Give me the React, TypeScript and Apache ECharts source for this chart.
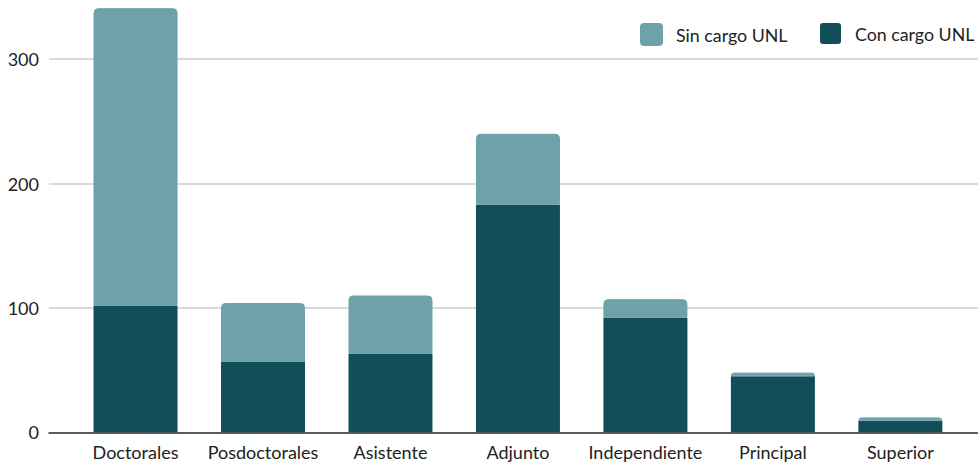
import React, { useEffect, useRef } from "react";
import * as echarts from "echarts";

const categories = ["Doctorales", "Posdoctorales", "Asistente", "Adjunto", "Independiente", "Principal", "Superior"];
const conCargo = [102, 57, 63, 183, 92, 45, 9];
const sinCargo = [239, 47, 47, 57, 15, 3, 3];
const seriesNames = ["Sin cargo UNL", "Con cargo UNL"];
const yTicks = { min: 0, max: 350, interval: 100 };

const FONT = "Lato, 'Open Sans', sans-serif";
const LIGHT = "#6ea2ab";
const DARK = "#114e58";
const ICON = "path://M3,0 H18 A3,3 0 0 1 21,3 V18 A3,3 0 0 1 18,21 H3 A3,3 0 0 1 0,18 V3 A3,3 0 0 1 3,0 Z";

export default function App() {
  const ref = useRef<HTMLDivElement>(null);
  useEffect(() => {
    if (!ref.current) return;
    const chart = echarts.init(ref.current, undefined, { renderer: "svg" });
    const gridCommon = { top: -3, bottom: 31.7, containLabel: false, outerBoundsMode: "none" };
    const legendCommon = {
      top: 23,
      padding: 0,
      itemWidth: 21,
      itemHeight: 21,
      icon: ICON,
      textStyle: { fontSize: 17.8, color: "#222", fontFamily: FONT, padding: [0, 0, 0, 9] },
    };
    chart.setOption({
      animation: false,
      textStyle: { fontFamily: FONT },
      legend: [
        { ...legendCommon, data: [seriesNames[0]], left: 640 },
        { ...legendCommon, data: [seriesNames[1]], left: 820 },
      ],
      grid: [
        { ...gridCommon, left: 71.8, right: 13.9 },
        { ...gridCommon, left: 49, right: 0 },
      ],
      xAxis: [
        {
          gridIndex: 0,
          type: "category",
          data: categories,
          axisLine: { show: false },
          axisTick: { show: false },
          axisLabel: { fontSize: 18, color: "#222", margin: 11, fontFamily: FONT, interval: 0 },
        },
        {
          gridIndex: 1,
          type: "category",
          data: [],
          axisLine: { show: true, lineStyle: { color: "#333", width: 1.5 } },
          axisTick: { show: false },
          axisLabel: { show: false },
        },
      ],
      yAxis: [
        {
          gridIndex: 0,
          type: "value",
          ...yTicks,
          show: false,
          splitLine: { show: false },
        },
        {
          gridIndex: 1,
          type: "value",
          ...yTicks,
          axisLine: { show: false },
          axisTick: { show: false },
          axisLabel: { fontSize: 18, color: "#222", margin: 10, fontFamily: FONT, showMaxLabel: false },
          splitLine: { lineStyle: { color: "#cccccc", width: 1.5 } },
        },
      ],
      series: [
        {
          name: seriesNames[1],
          type: "bar",
          stack: "total",
          xAxisIndex: 0,
          yAxisIndex: 0,
          data: conCargo,
          barWidth: 84,
          itemStyle: { color: DARK },
        },
        {
          name: seriesNames[0],
          type: "bar",
          stack: "total",
          xAxisIndex: 0,
          yAxisIndex: 0,
          data: sinCargo,
          barWidth: 84,
          itemStyle: { color: LIGHT, borderRadius: [4, 4, 0, 0], borderColor: LIGHT, borderWidth: 1 },
        },
      ],
    });
    return () => chart.dispose();
  }, []);
  return (
    <div
      ref={ref}
      style={{ position: "fixed", left: 0, top: 0, width: 978, height: 464, background: "#fff" }}
    />
  );
}
